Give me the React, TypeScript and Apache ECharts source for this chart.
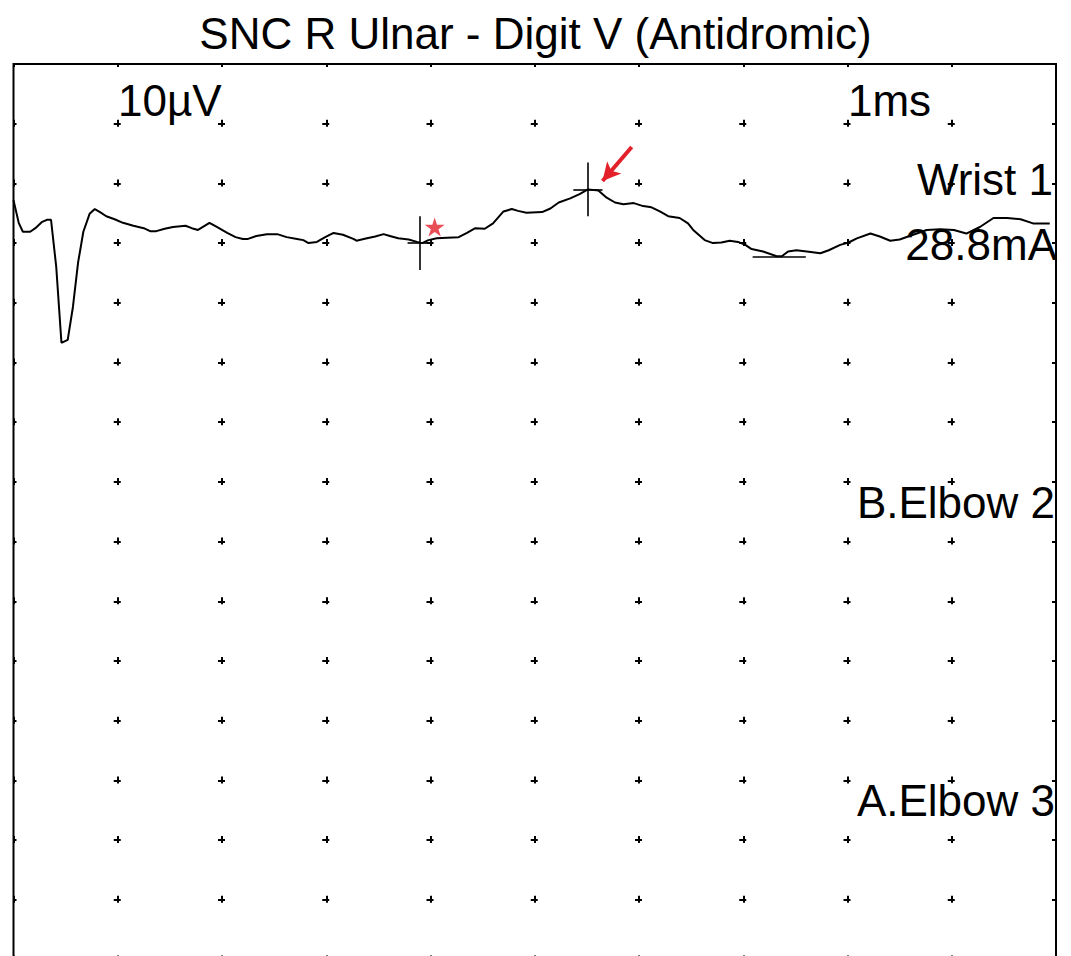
import React, { useEffect, useRef } from "react";
import * as echarts from "echarts";

const TITLE = "SNC R Ulnar - Digit V (Antidromic)";
const SENS_LABEL = "10µV";
const SWEEP_LABEL = "1ms";
const TRACE_LABELS = ["Wrist 1", "28.8mA", "B.Elbow 2", "A.Elbow 3"];

// time axis (ms), 1 ms / division
const X_MIN = 0;
const X_MAX = 10;
const X_STEP = 1;
// amplitude axis (µV), 10 µV / division
const Y_MIN = -130;
const Y_MAX = 30;
const Y_STEP = 10;

// Wrist 1 trace
const timeMs = [
  0.0, 0.05, 0.09, 0.16, 0.21, 0.27, 0.32, 0.36, 0.41, 0.46, 0.52, 0.57, 0.62, 0.67, 0.73, 0.78, 0.83, 0.89, 0.97,
  1.05, 1.15, 1.25, 1.31, 1.37, 1.45, 1.53, 1.65, 1.71, 1.77, 1.88, 1.95, 2.05, 2.13, 2.2, 2.25, 2.33, 2.43, 2.53,
  2.62, 2.72, 2.78, 2.83, 2.91, 2.99, 3.07, 3.16, 3.26, 3.29, 3.39, 3.47, 3.55, 3.61, 3.69, 3.79, 3.87, 3.92, 3.98,
  4.06, 4.16, 4.27, 4.35, 4.43, 4.52, 4.6, 4.7, 4.78, 4.84, 4.92, 5.07, 5.15, 5.23, 5.34, 5.43, 5.51, 5.61, 5.69,
  5.77, 5.85, 5.95, 6.04, 6.12, 6.2, 6.28, 6.39, 6.47, 6.52, 6.63, 6.71, 6.79, 6.87, 6.95, 7.02, 7.08, 7.19, 7.32,
  7.37, 7.43, 7.51, 7.61, 7.74, 7.82, 7.93, 8.01, 8.09, 8.22, 8.31, 8.41, 8.5, 8.63, 8.76, 8.89, 9.02, 9.14, 9.27,
  9.4, 9.53, 9.66, 9.78, 9.94,
];
const ampUv = [
  7.2, 3.4, 1.9, 1.9, 2.5, 3.5, 3.9, 3.9, -4.0, -16.7, -16.2, -10.7, -3.2, 1.9, 4.9, 5.7, 5.2, 4.5, 4.0,
  3.4, 2.9, 2.5, 2.0, 2.0, 2.4, 2.7, 2.9, 2.5, 2.2, 3.4, 2.7, 1.7, 1.0, 0.7, 0.7, 1.2, 1.5, 1.5,
  1.0, 0.7, 0.5, 0.0, 0.2, 1.0, 1.7, 1.4, 0.7, 0.4, 0.8, 1.1, 1.5, 1.2, 0.8, 0.6, 0.2, 0.0, 0.5,
  0.8, 0.9, 1.0, 1.7, 2.5, 2.4, 3.3, 5.3, 5.7, 5.4, 5.1, 5.2, 5.8, 6.8, 7.5, 8.2, 9.0, 8.8, 7.6,
  6.8, 6.5, 6.7, 6.2, 6.0, 5.3, 4.5, 4.2, 3.3, 2.2, 0.5, 0.0, 0.1, 0.4, 0.2, -0.3, -1.0, -1.4, -2.2,
  -2.2, -1.4, -1.2, -1.4, -1.7, -1.2, -0.3, 0.1, 0.8, 1.6, 1.1, 0.4, 0.6, 1.4, 2.2, 2.3, 2.2, 1.6, 2.7,
  4.2, 4.2, 4.0, 3.3, 3.3,
];

// cursors: [time, amplitude, half-width (ms), half-height (µV)]
const onsetCursor = [3.9, 0.0, 0.12, 4.5];
const peakCursor = [5.51, 9.0, 0.14, 4.5];
// trough cursor: horizontal line [t1, t2, amplitude]
const troughCursor = [7.09, 7.6, -2.3];
// red star and arrow annotations
const starPoint = [4.04, 2.7];
const arrowFrom = [5.93, 16.1];
const arrowTo = [5.65, 10.4];

const RED = "#e3212b";
const FONT = "'Liberation Sans', Arial, Helvetica, sans-serif";
const STAR =
  "path://M50,0 L61.2,34.5 L97.6,34.5 L68.2,55.9 L79.4,90.5 L50,69.1 L20.6,90.5 L31.8,55.9 L2.4,34.5 L38.8,34.5 Z";

function crossSegments(c: number[]) {
  const [t, v, ht, hv] = c;
  return [
    [{ coord: [t, v + hv] }, { coord: [t, v - hv] }],
    [{ coord: [t - ht, v] }, { coord: [t + ht, v] }],
  ];
}

export default function App() {
  const ref = useRef<HTMLDivElement>(null);

  useEffect(() => {
    if (!ref.current) return;
    const chart = echarts.init(ref.current, undefined, { renderer: "svg" });

    const gridLeft = 13.5;
    const gridTop = 64;
    const gridW = 1042.5;
    const gridH = 955.2;
    const colPx = gridW / ((X_MAX - X_MIN) / X_STEP);
    const rowPx = gridH / ((Y_MAX - Y_MIN) / Y_STEP);
    const dash = 7;

    const textEl = (text: string, x: number, y: number, align: string) => ({
      type: "text",
      x,
      y,
      silent: true,
      style: {
        text,
        fontSize: 44,
        fontFamily: FONT,
        fill: "#000",
        align,
        verticalAlign: "middle",
      },
    });

    chart.setOption({
      animation: false,
      backgroundColor: "#fff",
      title: {
        text: TITLE,
        left: "center",
        top: 6,
        textStyle: { fontSize: 44, fontWeight: "normal", color: "#000", fontFamily: FONT },
      },
      grid: {
        left: gridLeft,
        top: gridTop,
        width: gridW,
        height: gridH,
        outerBoundsMode: "none",
        containLabel: false,
        show: true,
        borderColor: "#000",
        borderWidth: 2,
        backgroundColor: "transparent",
      },
      xAxis: {
        type: "value",
        min: X_MIN,
        max: X_MAX,
        interval: X_STEP,
        axisLine: { show: false },
        axisTick: { show: false },
        axisLabel: { show: false },
        splitLine: {
          show: true,
          lineStyle: { color: "#000", width: 2, type: [dash, rowPx - dash], dashOffset: dash / 2 },
        },
      },
      yAxis: {
        type: "value",
        min: Y_MIN,
        max: Y_MAX,
        interval: Y_STEP,
        axisLine: { show: false },
        axisTick: { show: false },
        axisLabel: { show: false },
        splitLine: {
          show: true,
          lineStyle: { color: "#000", width: 2, type: [dash, colPx - dash], dashOffset: dash / 2 },
        },
      },
      series: [
        {
          type: "line",
          data: timeMs.map((t, i) => [t, ampUv[i]]),
          showSymbol: false,
          symbol: "none",
          lineStyle: { color: "#000", width: 2 },
          silent: true,
          markLine: {
            silent: true,
            symbol: "none",
            label: { show: false },
            lineStyle: { color: "#000", width: 1.6, type: "solid" },
            data: [
              ...crossSegments(onsetCursor),
              ...crossSegments(peakCursor),
              [{ coord: [troughCursor[0], troughCursor[2]] }, { coord: [troughCursor[1], troughCursor[2]] }],
            ],
          },
        },
        {
          type: "line",
          data: [],
          silent: true,
          markLine: {
            silent: true,
            symbol: ["none", "arrow"],
            symbolSize: [14, 18],
            label: { show: false },
            lineStyle: { color: RED, width: 4, type: "solid" },
            data: [[{ coord: arrowFrom }, { coord: arrowTo }]],
          },
        },
        {
          type: "scatter",
          data: [starPoint],
          symbol: STAR,
          symbolSize: 20,
          symbolKeepAspect: true,
          itemStyle: { color: RED },
          silent: true,
        },
      ],
      graphic: [
        textEl(SENS_LABEL, 118, 100, "left"),
        textEl(SWEEP_LABEL, 848, 100, "left"),
        textEl(TRACE_LABELS[0], 1053, 179, "right"),
        textEl(TRACE_LABELS[1], 1057, 244, "right"),
        textEl(TRACE_LABELS[2], 1055, 502, "right"),
        textEl(TRACE_LABELS[3], 1055, 800, "right"),
      ],
    });

    return () => chart.dispose();
  }, []);

  return (
    <div style={{ position: "absolute", left: 0, top: 0, width: 1071, height: 956, overflow: "hidden", background: "#fff" }}>
      <div ref={ref} style={{ width: 1071, height: 1040 }} />
    </div>
  );
}
